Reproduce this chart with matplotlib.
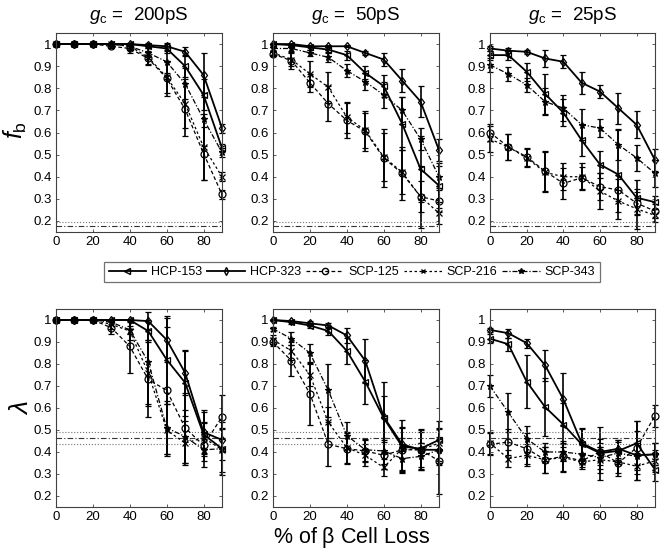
import matplotlib
matplotlib.use("Agg")
import matplotlib.pyplot as plt
from matplotlib.lines import Line2D

plt.rcParams['font.family'] = ['Liberation Sans', 'DejaVu Sans']
plt.rcParams['mathtext.fontset'] = 'custom'
plt.rcParams['mathtext.rm'] = 'Liberation Sans'
plt.rcParams['mathtext.it'] = 'Liberation Sans:italic'
plt.rcParams['mathtext.bf'] = 'Liberation Sans:bold'

x = [0, 10, 20, 30, 40, 50, 60, 70, 80, 90]
series_names = ["HCP-153", "HCP-323", "SCP-125", "SCP-216", "SCP-343"]
conductances = ["200pS", "50pS", "25pS"]
xticks = [0, 20, 40, 60, 80]
yticks = [0.2, 0.3, 0.4, 0.5, 0.6, 0.7, 0.8, 0.9, 1.0]
ytick_labels = ["0.2", "0.3", "0.4", "0.5", "0.6", "0.7", "0.8", "0.9", "1"]

# ---- f_b, g_c = 200pS
fb200_hcp153 = [1, 1, 1, 1, 1, 0.99, 0.98, 0.90, 0.77, 0.53]
fb200_hcp323 = [1, 1, 1, 1, 1, 0.995, 0.99, 0.965, 0.86, 0.62]
fb200_scp125 = [1, 1, 1, 0.99, 0.98, 0.935, 0.845, 0.705, 0.505, 0.32]
fb200_scp216 = [1, 1, 1, 1, 0.99, 0.94, 0.85, 0.73, 0.535, 0.40]
fb200_scp343 = [1, 1, 1, 1, 0.99, 0.96, 0.92, 0.82, 0.66, 0.51]
fb200_err_hcp153 = [0, 0, 0, 0, 0, 0.01, 0.02, 0.05, 0.07, 0.02]
fb200_err_hcp323 = [0, 0, 0, 0, 0.005, 0.01, 0.015, 0.02, 0.10, 0.02]
fb200_err_scp125 = [0, 0, 0, 0.01, 0.02, 0.03, 0.08, 0.12, 0.12, 0.02]
fb200_err_scp216 = [0, 0, 0, 0.005, 0.015, 0.03, 0.07, 0.11, 0.15, 0.02]
fb200_err_scp343 = [0, 0, 0, 0.005, 0.01, 0.02, 0.05, 0.07, 0.12, 0.02]

# ---- f_b, g_c = 50pS
fb50_hcp153 = [1, 0.995, 0.985, 0.975, 0.95, 0.87, 0.81, 0.64, 0.435, 0.36]
fb50_hcp323 = [1, 1, 0.99, 0.99, 0.99, 0.96, 0.93, 0.835, 0.74, 0.52]
fb50_scp125 = [0.955, 0.925, 0.825, 0.73, 0.655, 0.605, 0.485, 0.415, 0.31, 0.29]
fb50_scp216 = [0.96, 0.93, 0.865, 0.805, 0.67, 0.61, 0.49, 0.42, 0.31, 0.235]
fb50_scp343 = [0.98, 0.98, 0.96, 0.94, 0.88, 0.83, 0.77, 0.70, 0.57, 0.40]
fb50_err_hcp153 = [0, 0.005, 0.01, 0.01, 0.02, 0.03, 0.05, 0.12, 0.15, 0.10]
fb50_err_hcp323 = [0, 0, 0.005, 0.005, 0.005, 0.01, 0.03, 0.05, 0.07, 0.05]
fb50_err_scp125 = [0.01, 0.04, 0.04, 0.08, 0.08, 0.09, 0.13, 0.12, 0.14, 0.05]
fb50_err_scp216 = [0.01, 0.03, 0.06, 0.07, 0.07, 0.08, 0.11, 0.10, 0.07, 0.05]
fb50_err_scp343 = [0.01, 0.01, 0.015, 0.02, 0.03, 0.04, 0.06, 0.06, 0.05, 0.05]

# ---- f_b, g_c = 25pS
fb25_hcp153 = [0.95, 0.95, 0.875, 0.775, 0.69, 0.565, 0.455, 0.41, 0.305, 0.285]
fb25_hcp323 = [0.98, 0.97, 0.965, 0.935, 0.92, 0.825, 0.785, 0.71, 0.635, 0.475]
fb25_scp125 = [0.60, 0.535, 0.49, 0.425, 0.37, 0.395, 0.355, 0.34, 0.28, 0.245]
fb25_scp216 = [0.57, 0.535, 0.485, 0.42, 0.40, 0.40, 0.335, 0.29, 0.255, 0.225]
fb25_scp343 = [0.905, 0.865, 0.815, 0.74, 0.71, 0.635, 0.62, 0.545, 0.485, 0.415]
fb25_err_hcp153 = [0.02, 0.02, 0.04, 0.09, 0.06, 0.07, 0.06, 0.20, 0.08, 0.03]
fb25_err_hcp323 = [0.01, 0.01, 0.01, 0.04, 0.03, 0.05, 0.03, 0.07, 0.06, 0.05]
fb25_err_scp125 = [0.04, 0.06, 0.04, 0.09, 0.07, 0.05, 0.06, 0.05, 0.05, 0.03]
fb25_err_scp216 = [0.06, 0.06, 0.04, 0.09, 0.06, 0.06, 0.08, 0.05, 0.09, 0.03]
fb25_err_scp343 = [0.03, 0.03, 0.03, 0.06, 0.06, 0.07, 0.04, 0.07, 0.06, 0.06]

# ---- lambda, g_c = 200pS
lam200_hcp153 = [1, 1, 1, 1, 1, 0.95, 0.82, 0.715, 0.48, 0.415]
lam200_hcp323 = [1, 1, 1, 1, 1, 0.995, 0.91, 0.76, 0.49, 0.455]
lam200_scp125 = [1, 1, 1, 0.965, 0.88, 0.73, 0.68, 0.51, 0.43, 0.56]
lam200_scp216 = [1, 1, 1, 0.98, 0.95, 0.76, 0.50, 0.44, 0.465, 0.41]
lam200_scp343 = [1, 1, 1, 0.99, 0.955, 0.81, 0.51, 0.47, 0.41, 0.415]
lam200_err_hcp153 = [0, 0, 0, 0, 0, 0.04, 0.20, 0.15, 0.10, 0.05]
lam200_err_hcp323 = [0, 0, 0, 0, 0, 0.04, 0.10, 0.10, 0.10, 0.05]
lam200_err_scp125 = [0, 0, 0, 0.03, 0.12, 0.17, 0.29, 0.16, 0.10, 0.10]
lam200_err_scp216 = [0, 0, 0, 0.02, 0.04, 0.15, 0.12, 0.10, 0.07, 0.10]
lam200_err_scp343 = [0, 0, 0, 0.01, 0.02, 0.19, 0.12, 0.12, 0.05, 0.12]

# ---- lambda, g_c = 50pS
lam50_hcp153 = [1, 0.99, 0.975, 0.95, 0.86, 0.72, 0.555, 0.425, 0.415, 0.455]
lam50_hcp323 = [1, 0.995, 0.985, 0.975, 0.93, 0.815, 0.56, 0.435, 0.41, 0.41]
lam50_scp125 = [0.90, 0.815, 0.665, 0.435, 0.415, 0.405, 0.385, 0.41, 0.41, 0.36]
lam50_scp216 = [0.91, 0.86, 0.75, 0.535, 0.42, 0.385, 0.33, 0.415, 0.41, 0.44]
lam50_scp343 = [0.96, 0.915, 0.85, 0.68, 0.475, 0.41, 0.405, 0.37, 0.38, 0.41]
lam50_err_hcp153 = [0, 0.01, 0.01, 0.02, 0.06, 0.10, 0.10, 0.12, 0.09, 0.05]
lam50_err_hcp323 = [0, 0.005, 0.01, 0.01, 0.035, 0.10, 0.16, 0.03, 0.03, 0.05]
lam50_err_scp125 = [0.02, 0.07, 0.14, 0.10, 0.07, 0.05, 0.06, 0.10, 0.08, 0.15]
lam50_err_scp216 = [0.02, 0.04, 0.05, 0.07, 0.07, 0.05, 0.04, 0.10, 0.09, 0.10]
lam50_err_scp343 = [0.01, 0.03, 0.04, 0.12, 0.06, 0.05, 0.06, 0.05, 0.06, 0.06]

# ---- lambda, g_c = 25pS
lam25_hcp153 = [0.915, 0.89, 0.72, 0.605, 0.525, 0.435, 0.395, 0.405, 0.44, 0.32]
lam25_hcp323 = [0.955, 0.94, 0.895, 0.795, 0.64, 0.44, 0.40, 0.415, 0.385, 0.39]
lam25_scp125 = [0.435, 0.445, 0.415, 0.365, 0.38, 0.36, 0.40, 0.35, 0.42, 0.565]
lam25_scp216 = [0.44, 0.37, 0.385, 0.365, 0.375, 0.355, 0.365, 0.355, 0.335, 0.36]
lam25_scp343 = [0.70, 0.58, 0.46, 0.40, 0.40, 0.39, 0.375, 0.395, 0.38, 0.39]
lam25_err_hcp153 = [0.02, 0.03, 0.12, 0.13, 0.10, 0.07, 0.12, 0.05, 0.10, 0.05]
lam25_err_hcp323 = [0.01, 0.02, 0.02, 0.07, 0.12, 0.07, 0.04, 0.04, 0.11, 0.05]
lam25_err_scp125 = [0.05, 0.06, 0.07, 0.06, 0.07, 0.03, 0.06, 0.06, 0.12, 0.05]
lam25_err_scp216 = [0.05, 0.04, 0.05, 0.06, 0.06, 0.03, 0.06, 0.05, 0.06, 0.05]
lam25_err_scp343 = [0.05, 0.09, 0.06, 0.04, 0.04, 0.04, 0.05, 0.05, 0.06, 0.05]

# reference levels
fb_ref_dotted = [0.196]
fb_ref_dashdot = [0.176]
lam_ref_dotted = [0.49, 0.436]
lam_ref_dashdot = [0.463]

panels = [
    [(fb200_hcp153, fb200_err_hcp153), (fb200_hcp323, fb200_err_hcp323), (fb200_scp125, fb200_err_scp125), (fb200_scp216, fb200_err_scp216), (fb200_scp343, fb200_err_scp343)],
    [(fb50_hcp153, fb50_err_hcp153), (fb50_hcp323, fb50_err_hcp323), (fb50_scp125, fb50_err_scp125), (fb50_scp216, fb50_err_scp216), (fb50_scp343, fb50_err_scp343)],
    [(fb25_hcp153, fb25_err_hcp153), (fb25_hcp323, fb25_err_hcp323), (fb25_scp125, fb25_err_scp125), (fb25_scp216, fb25_err_scp216), (fb25_scp343, fb25_err_scp343)],
    [(lam200_hcp153, lam200_err_hcp153), (lam200_hcp323, lam200_err_hcp323), (lam200_scp125, lam200_err_scp125), (lam200_scp216, lam200_err_scp216), (lam200_scp343, lam200_err_scp343)],
    [(lam50_hcp153, lam50_err_hcp153), (lam50_hcp323, lam50_err_hcp323), (lam50_scp125, lam50_err_scp125), (lam50_scp216, lam50_err_scp216), (lam50_scp343, lam50_err_scp343)],
    [(lam25_hcp153, lam25_err_hcp153), (lam25_hcp323, lam25_err_hcp323), (lam25_scp125, lam25_err_scp125), (lam25_scp216, lam25_err_scp216), (lam25_scp343, lam25_err_scp343)],
]

styles = [
    dict(ls='-', marker='<', lw=1.3, mfc='none', ms=4.5),
    dict(ls='-', marker='d', lw=1.3, mfc='none', ms=4.5),
    dict(ls=(0, (3, 2)), marker='o', lw=0.9, mfc='none', ms=5),
    dict(ls=(0, (2, 2)), marker='x', lw=0.9, mfc='none', ms=4),
    dict(ls=(0, (4, 1.5, 1, 1.5)), marker='*', lw=0.9, mfc='k', ms=4.5),
]

W, H = 661, 551
fig = plt.figure(figsize=(W / 100, H / 100), dpi=100)
lefts = [56, 273, 490]
widths = [166, 166, 165]
tops = [33, 309]
heights = [199, 198]

axes = []
for r in range(2):
    for c in range(3):
        ax = fig.add_axes([lefts[c] / W, 1 - (tops[r] + heights[r]) / H, widths[c] / W, heights[r] / H])
        axes.append(ax)

for i, ax in enumerate(axes):
    for (vals, errs), st in zip(panels[i], styles):
        cont = ax.errorbar(x, vals, yerr=errs, color='k', ecolor='k', elinewidth=1.2,
                           capsize=2, capthick=1.0, ls=st['ls'], lw=st['lw'],
                           marker=st['marker'], mfc=st['mfc'], mec='k', ms=st['ms'],
                           mew=0.9)
        for art in cont.get_children():
            art.set_clip_on(False)
    if i < 3:
        for yv in fb_ref_dotted:
            ax.axhline(yv, color='0.45', ls=':', lw=0.8)
        for yv in fb_ref_dashdot:
            ax.axhline(yv, color='0.2', ls=(0, (5, 2, 1, 2)), lw=0.8)
    else:
        for yv in lam_ref_dotted:
            ax.axhline(yv, color='0.45', ls=':', lw=0.8)
        for yv in lam_ref_dashdot:
            ax.axhline(yv, color='0.2', ls=(0, (5, 2, 1, 2)), lw=0.8)
    ax.set_xlim(0, 90)
    ax.set_ylim(0.15, 1.05)
    ax.set_xticks(xticks)
    ax.set_yticks(yticks)
    ax.set_yticklabels(ytick_labels)
    ax.tick_params(direction='in', length=2.5, width=0.6, labelsize=9.5,
                   top=True, right=True, pad=3, colors='0.25', labelcolor='k')
    for sp in ax.spines.values():
        sp.set_linewidth(0.8)
        sp.set_color('0.25')

for c in range(3):
    cx = (lefts[c] + widths[c] / 2) / W
    fig.text(cx, 1 - 16 / H, r'$g_{\mathrm{c}}$ =  ' + conductances[c],
             ha='center', va='center', fontsize=13.5)

fig.text(15 / W, 1 - 130 / H, r'$f_{\mathrm{b}}$', ha='center', va='center',
         fontsize=18, rotation=90)
fig.text(20 / W, 1 - 408 / H, r'$\lambda$', ha='center', va='center',
         fontsize=19, rotation=90, family='DejaVu Serif')
fig.text(352 / W, 1 - 537 / H, r'% of $\mathrm{\beta}$ Cell Loss', ha='center',
         va='center', fontsize=15.5)

handles = [Line2D([0], [0], color='k', ls=st['ls'], lw=st['lw'], marker=st['marker'],
                  mfc=st['mfc'], mec='k', ms=st['ms'] - 0.5) for st in styles]
leg = fig.legend(handles, series_names, ncol=5, loc='center',
                 bbox_to_anchor=(352 / W, 1 - 272 / H), fontsize=9,
                 frameon=True, fancybox=False, edgecolor='0.3', handlelength=3.0,
                 columnspacing=0.4, handletextpad=0.4, borderpad=0.35, borderaxespad=0)
leg.get_frame().set_linewidth(0.9)

fig.savefig('out.png', dpi=100)
